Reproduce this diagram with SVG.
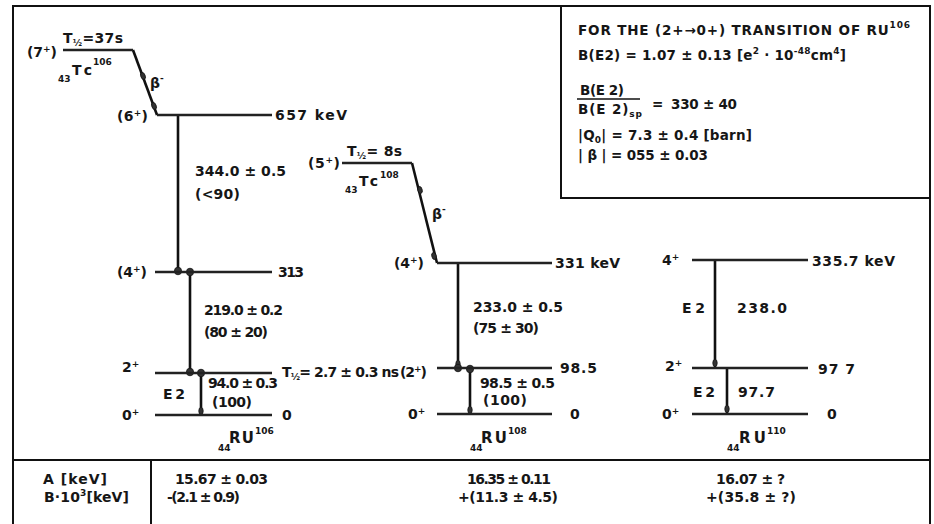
<svg xmlns="http://www.w3.org/2000/svg" width="934" height="524" viewBox="0 0 934 524">
<style>
text{font-family:"DejaVu Sans","Liberation Sans",sans-serif;font-size:14px;font-weight:bold;fill:#161616}
.s{font-size:9px}
.bx{font-size:13.5px}
.ru{font-size:15px}
.lv{stroke:#222;stroke-width:2.4;fill:none}
.g{stroke:#111;stroke-width:2.6;fill:none}
.b{stroke:#111;stroke-width:2.6;fill:none}
.frame{stroke:#111;stroke-width:2;fill:none}
.dot{fill:#333;stroke:#111;stroke-width:0.8}
</style>
<defs>
<ellipse id="d" class="dot" cx="0" cy="0" rx="3.6" ry="3.8"/>
<ellipse id="m" class="dot" cx="0" cy="0" rx="2.2" ry="3.6"/>
</defs>
<g id="frame">
<path class="frame" d="M13,524 V6 H930 V524"/>
<line class="frame" x1="13" y1="460" x2="930" y2="460"/>
<line class="frame" x1="151" y1="460" x2="151" y2="524"/>
<rect class="frame" x="561" y="6" width="369" height="192"/>
</g>
<g id="connectors">
<line class="b" x1="133" y1="50" x2="157" y2="115"/>
<use href="#m" transform="translate(143,76) rotate(-20)"/>
<use href="#m" transform="translate(154,106) rotate(-20)"/>
<line class="g" x1="178" y1="115" x2="178" y2="271"/>
<use href="#d" x="178" y="271"/>
<line class="g" x1="190" y1="272" x2="190" y2="372"/>
<use href="#d" x="190" y="272"/>
<use href="#d" x="190" y="372"/>
<line class="g" x1="201" y1="373" x2="201" y2="414"/>
<use href="#d" x="201" y="373"/>
<use href="#m" x="201" y="411"/>
<line class="b" x1="412" y1="163" x2="437" y2="263"/>
<use href="#m" transform="translate(420,190) rotate(-14)"/>
<use href="#m" transform="translate(434,256) rotate(-14)"/>
<line class="g" x1="458" y1="263" x2="458" y2="367"/>
<use href="#m" x="458" y="364"/>
<use href="#d" x="458" y="368"/>
<line class="g" x1="470" y1="368" x2="470" y2="414"/>
<use href="#d" x="470" y="369"/>
<use href="#m" x="470" y="410"/>
<line class="g" x1="715" y1="260" x2="715" y2="368"/>
<use href="#m" x="715" y="363"/>
<line class="g" x1="727" y1="368" x2="727" y2="414"/>
<use href="#m" x="727" y="409"/>
</g>
<g id="tc106">
<line class="lv" x1="63" y1="50" x2="133" y2="50"/>
<text x="27" y="57" textLength="30">(7<tspan class="s" dy="-5">+</tspan><tspan dy="5">)</tspan></text>
<text x="63" y="43" textLength="60">T<tspan class="s" dy="3">½</tspan><tspan dy="-3">=37s</tspan></text>
<text class="s" x="58" y="82">43</text>
<text x="72" y="75" textLength="20">Tc</text>
<text class="s" x="93" y="65">106</text>
<text x="150" y="88">β<tspan class="s" dy="-7">-</tspan></text>
</g>
<g id="ru106-6">
<line class="lv" x1="157" y1="115" x2="272" y2="115"/>
<text x="117" y="121" textLength="31">(6<tspan class="s" dy="-5">+</tspan><tspan dy="5">)</tspan></text>
<text x="275" y="120" textLength="72">657 keV</text>
<text x="195" y="176" textLength="91">344.0 ± 0.5</text>
<text x="195" y="199" textLength="45">(&lt;90)</text>
</g>
<g id="ru106-4">
<line class="lv" x1="155" y1="272" x2="272" y2="272"/>
<text x="117" y="277" textLength="30">(4<tspan class="s" dy="-5">+</tspan><tspan dy="5">)</tspan></text>
<text x="278" y="277" textLength="26">313</text>
<text x="204" y="315" textLength="79">219.0 ± 0.2</text>
<text x="204" y="337" textLength="64">(80 ± 20)</text>
</g>
<g id="ru106-2">
<line class="lv" x1="155" y1="373" x2="272" y2="373"/>
<text x="122" y="372">2<tspan class="s" dy="-5">+</tspan></text>
<text x="282" y="377" textLength="117">T<tspan class="s" dy="3">½</tspan><tspan dy="-3">= 2.7 ± 0.3 ns</tspan></text>
<text x="163" y="399" textLength="22">E2</text>
<text x="208" y="388" textLength="70">94.0 ± 0.3</text>
<text x="212" y="407" textLength="40">(100)</text>
</g>
<g id="ru106-0">
<line class="lv" x1="155" y1="415" x2="272" y2="415"/>
<text x="122" y="420">0<tspan class="s" dy="-5">+</tspan></text>
<text x="282" y="420">0</text>
<text class="s" x="218" y="451">44</text>
<text class="ru" x="229" y="443" textLength="25">RU</text>
<text class="s" x="255" y="434">106</text>
</g>
<g id="tc108">
<line class="lv" x1="342" y1="163" x2="412" y2="163"/>
<text x="308" y="168" textLength="32">(5<tspan class="s" dy="-5">+</tspan><tspan dy="5">)</tspan></text>
<text x="347" y="156" textLength="55">T<tspan class="s" dy="3">½</tspan><tspan dy="-3">= 8s</tspan></text>
<text class="s" x="345" y="193">43</text>
<text x="359" y="186" textLength="19">Tc</text>
<text class="s" x="380" y="178">108</text>
<text x="432" y="219">β<tspan class="s" dy="-7">-</tspan></text>
</g>
<g id="ru108-4">
<line class="lv" x1="437" y1="263" x2="552" y2="263"/>
<text x="394" y="268" textLength="30">(4<tspan class="s" dy="-5">+</tspan><tspan dy="5">)</tspan></text>
<text x="555" y="268" textLength="65">331 keV</text>
<text x="473" y="312" textLength="90">233.0 ± 0.5</text>
<text x="473" y="333" textLength="66">(75 ± 30)</text>
</g>
<g id="ru108-2">
<line class="lv" x1="437" y1="368" x2="552" y2="368"/>
<text x="400" y="377" textLength="27">(2<tspan class="s" dy="-5">+</tspan><tspan dy="5">)</tspan></text>
<text x="560" y="373" textLength="37">98.5</text>
<text x="480" y="388" textLength="75">98.5 ± 0.5</text>
<text x="483" y="405" textLength="44">(100)</text>
</g>
<g id="ru108-0">
<line class="lv" x1="437" y1="414" x2="552" y2="414"/>
<text x="408" y="419">0<tspan class="s" dy="-5">+</tspan></text>
<text x="570" y="419">0</text>
<text class="s" x="470" y="451">44</text>
<text class="ru" x="481" y="443" textLength="26">RU</text>
<text class="s" x="508" y="434">108</text>
</g>
<g id="ru110-4">
<line class="lv" x1="692" y1="260" x2="808" y2="260"/>
<text x="662" y="265">4<tspan class="s" dy="-5">+</tspan></text>
<text x="812" y="266" textLength="83">335.7 keV</text>
<text x="682" y="313" textLength="23">E2</text>
<text x="737" y="313" textLength="50">238.0</text>
</g>
<g id="ru110-2">
<line class="lv" x1="692" y1="368" x2="808" y2="368"/>
<text x="665" y="371">2<tspan class="s" dy="-5">+</tspan></text>
<text x="818" y="374" textLength="37">97 7</text>
<text x="693" y="397" textLength="22">E2</text>
<text x="738" y="397" textLength="37">97.7</text>
</g>
<g id="ru110-0">
<line class="lv" x1="692" y1="414" x2="808" y2="414"/>
<text x="662" y="419">0<tspan class="s" dy="-5">+</tspan></text>
<text x="827" y="419">0</text>
<text class="s" x="727" y="451">44</text>
<text class="ru" x="739" y="443" textLength="27">RU</text>
<text class="s" x="767" y="434">110</text>
</g>
<g id="infobox">
<text class="bx" x="578" y="35" textLength="332">FOR THE (2+→0+) TRANSITION OF RU<tspan class="s" dy="-7">106</tspan></text>
<text class="bx" x="578" y="60" textLength="268">B(E2) = 1.07 ± 0.13 [e<tspan class="s" dy="-6">2</tspan><tspan dy="6"> · 10</tspan><tspan class="s" dy="-6">-48</tspan><tspan dy="6">cm</tspan><tspan class="s" dy="-6">4</tspan><tspan dy="6">]</tspan></text>
<text class="bx" x="580" y="95" textLength="44">B(E 2)</text>
<line stroke="#111" stroke-width="1.6" x1="577" y1="99" x2="640" y2="99"/>
<text class="bx" x="578" y="114" textLength="64">B(E 2)<tspan class="s" dy="3">sp</tspan></text>
<text class="bx" x="652" y="109">=</text>
<text class="bx" x="671" y="109" textLength="66">330 ± 40</text>
<text class="bx" x="578" y="140" textLength="174">|Q<tspan class="s" dy="3">0</tspan><tspan dy="-3">| = 7.3 ± 0.4  [barn]</tspan></text>
<text class="bx" x="578" y="160" textLength="130">| β | = 055 ± 0.03</text>
</g>
<g id="table">
<text x="43" y="484" textLength="64">A [keV]</text>
<text x="44" y="502" textLength="85">B·10<tspan class="s" dy="-6">3</tspan><tspan dy="6">[keV]</tspan></text>
<text x="175" y="484" textLength="93">15.67 ± 0.03</text>
<text x="167" y="502" textLength="73">-(2.1 ± 0.9)</text>
<text x="467" y="484" textLength="84">16.35 ± 0.11</text>
<text x="458" y="502" textLength="100">+(11.3 ± 4.5)</text>
<text x="716" y="484" textLength="69">16.07 ± ?</text>
<text x="706" y="502" textLength="90">+(35.8 ± ?)</text>
</g>
</svg>
